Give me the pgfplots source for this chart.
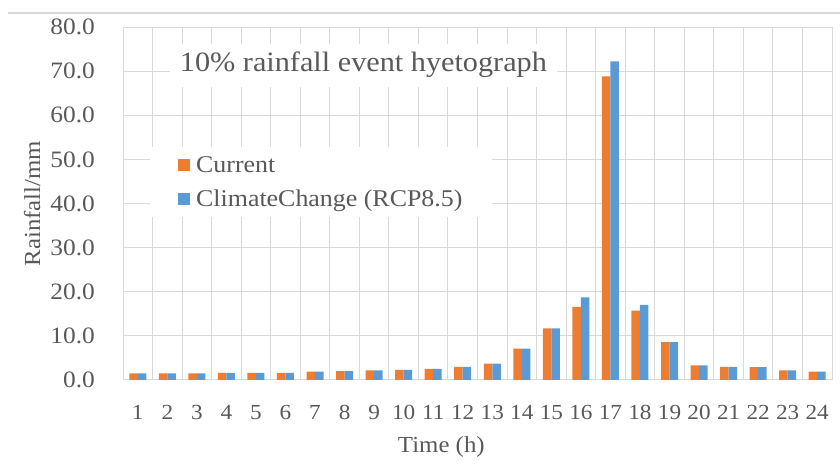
\documentclass[border=0pt]{standalone}
\usepackage{fontspec}
\setmainfont{Liberation Serif}[FakeStretch=1.08]
\usepackage{pgfplots}
\pgfplotsset{compat=1.18}
\definecolor{cur}{HTML}{ED7D31}
\definecolor{cc}{HTML}{5B9BD5}
\definecolor{txt}{HTML}{595959}
\definecolor{grd}{HTML}{D9D9D9}
\begin{document}
\begin{tikzpicture}[x=1pt,y=1pt]
\useasboundingbox (0,0) rectangle (840,470);
\draw[line width=2pt, color=grd] (8,457) -- (840,457);
\begin{axis}[
  at={(123pt,90pt)}, anchor=south west,
  width=709pt, height=353pt, scale only axis,
  ybar=0pt, bar width=8.5pt,
  xmin=0.5, xmax=24.5, ymin=0, ymax=80,
  xtick={1,...,24}, minor xtick={0.5,1.5,...,24.5},
  ytick={0,10,...,80},
  major tick length=0pt, minor tick length=0pt,
  ymajorgrids, xminorgrids,
  grid style={color=grd, line width=1pt},
  minor grid style={color=grd, line width=1pt},
  axis line style={color=grd, line width=1pt},
  /pgf/number format/assume math mode=true,
  yticklabel style={/pgf/number format/fixed, /pgf/number format/fixed zerofill, /pgf/number format/precision=1, inner sep=0pt, xshift=-28pt, font=\fontsize{23.5}{23.5}\selectfont, text=txt},
  xticklabel style={inner sep=0pt, yshift=-25pt, font=\fontsize{21.5}{21.5}\selectfont, text=txt},
  xlabel={Time (h)},
  xlabel style={at={(axis description cs:0.449,-0.19)}, anchor=center, font=\fontsize{23}{23}\selectfont, text=txt},
  ylabel={Rainfall/mm},
  ylabel style={at={(axis description cs:-0.1283,0.5)}, anchor=center, font=\fontsize{23}{23}\selectfont, text=txt},
  legend style={at={(rel axis cs:0.038,0.66)}, anchor=north west, draw=none, fill=white,
    font=\fontsize{24}{24}\selectfont, text=txt, inner xsep=28pt, inner ysep=8pt,
    row sep=14pt, nodes={inner sep=1pt}},
  legend cell align=left,
]
\addlegendimage{legend image code/.code={\fill[cur, draw=none] (0pt,-6pt) rectangle (12pt,6pt); \path[draw=none, fill=none] (0pt,0pt) -- (17pt,0pt);}}
\addlegendentry{Current}
\addlegendimage{legend image code/.code={\fill[cc, draw=none] (0pt,-6pt) rectangle (12pt,6pt); \path[draw=none, fill=none] (0pt,0pt) -- (17pt,0pt);}}
\addlegendentry{ClimateChange (RCP8.5)}
\addplot[fill=cur, draw=none, forget plot, bar shift=-4.25pt] coordinates {
(1,1.5) (2,1.5) (3,1.5) (4,1.6) (5,1.6) (6,1.6) (7,1.9) (8,2.0) (9,2.2) (10,2.3) (11,2.5) (12,3.0)
(13,3.7) (14,7.1) (15,11.7) (16,16.6) (17,68.8) (18,15.7) (19,8.6) (20,3.3) (21,3.0) (22,2.9) (23,2.2) (24,1.9)};
\addplot[fill=cc, draw=none, forget plot, bar shift=4.25pt] coordinates {
(1,1.5) (2,1.5) (3,1.5) (4,1.6) (5,1.6) (6,1.6) (7,1.9) (8,2.0) (9,2.2) (10,2.3) (11,2.5) (12,3.0)
(13,3.7) (14,7.1) (15,11.7) (16,18.7) (17,72.2) (18,17.0) (19,8.6) (20,3.3) (21,3.0) (22,2.9) (23,2.2) (24,1.9)};
\node[anchor=west, fill=white, inner xsep=10pt, minimum height=43pt, font=\fontsize{28}{28}\selectfont, text=txt] at (rel axis cs:0.066,0.892) {10\% rainfall event hyetograph};
\end{axis}
\end{tikzpicture}
\end{document}
